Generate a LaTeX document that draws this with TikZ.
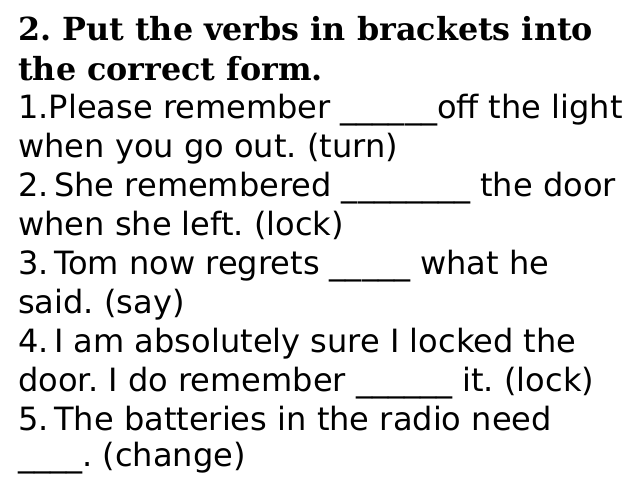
\documentclass[tikz,border=0pt]{standalone}
\usepackage{fontspec}
\setmainfont{DejaVu Sans}
\newfontfamily\titlefont{DejaVu Serif}
\frenchspacing
\begin{document}
\begin{tikzpicture}[x=0.025cm,y=-0.025cm,
  ln/.style={anchor=base west,inner sep=0pt,font=\fontsize{22.8pt}{27pt}\selectfont},
  tl/.style={ln,font=\titlefont\bfseries\fontsize{22.6pt}{27pt}\selectfont}]
\useasboundingbox (0,0) rectangle (640,480);
\node[tl] (t1) at (18,40) {2. Put the verbs in brackets into};
\node[tl] (t2) at (18,80) {the correct form.};
\node[ln] (l1) at (18,118) {1.Please remember \_\_\_\_\_\_off the light};
\node[ln] (l2) at (18,157) {when you go out. (turn)};
\node[ln] (l3) at (18,196) {2.\,She remembered \_\_\_\_\_\_\_\_ the door};
\node[ln] (l4) at (18,235) {when she left. (lock)};
\node[ln] (l5) at (18,274) {3.\,Tom now regrets \_\_\_\_\_ what he};
\node[ln] (l6) at (18,313) {said. (say)};
\node[ln] (l7) at (18,352) {4.\,I am absolutely sure I locked the};
\node[ln] (l8) at (18,391) {door. I do remember \_\_\_\_\_\_ it. (lock)};
\node[ln] (l9) at (18,430) {5.\,The batteries in the radio need};
\node[ln] (l10) at (18,466) {\_\_\_\_. (change)};
\end{tikzpicture}
\end{document}
